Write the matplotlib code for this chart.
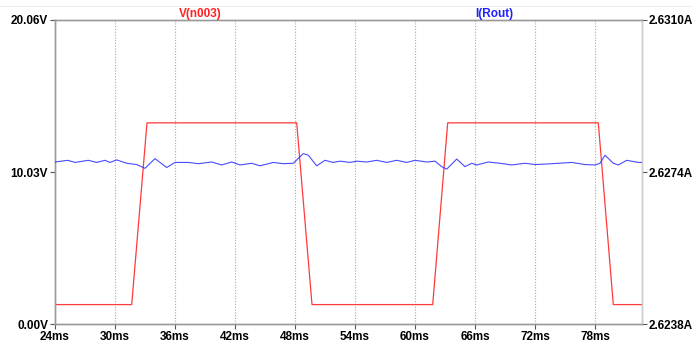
import matplotlib
matplotlib.use("Agg")
import matplotlib.pyplot as plt
from matplotlib.lines import Line2D

# V(n003): square-ish pulse, in volts
v_time = [24.0, 31.67, 33.2, 48.17, 49.7, 61.77, 63.27, 78.33, 79.83, 82.67]
v_vals = [1.30, 1.30, 13.28, 13.28, 1.30, 1.30, 13.28, 13.28, 1.30, 1.30]

# I(Rout): small ripple with ringing after the edges, in amps
i_time = [24.0, 25.27, 26.0, 27.33, 28.17, 29.0, 29.5, 30.17, 31.17, 32.17,
          33.0, 34.0, 35.17, 36.0, 37.33, 38.33, 39.67, 40.67, 41.67, 42.5,
          43.67, 44.5, 45.83, 46.83, 47.83, 48.83, 49.33, 50.17, 51.0, 51.83,
          52.5, 53.5, 54.17, 55.17, 56.17, 57.17, 58.17, 59.17, 60.0, 61.17,
          62.0, 62.67, 63.17, 64.17, 65.0, 65.67, 66.17, 67.33, 68.5, 69.67,
          71.0, 72.0, 73.0, 74.33, 75.67, 77.0, 78.0, 78.5, 79.0, 79.83,
          80.33, 81.17, 82.33, 82.67]
i_vals = [2.62764, 2.62768, 2.62763, 2.62768, 2.62763, 2.62768, 2.62763, 2.62769, 2.62761, 2.62758,
          2.62749, 2.62772, 2.62751, 2.62763, 2.62763, 2.62760, 2.62764, 2.62757, 2.62764, 2.62757,
          2.62761, 2.62755, 2.62763, 2.62760, 2.62761, 2.62784, 2.62780, 2.62755, 2.62768, 2.62763,
          2.62766, 2.62763, 2.62766, 2.62764, 2.62768, 2.62763, 2.62768, 2.62763, 2.62768, 2.62764,
          2.62766, 2.62753, 2.62747, 2.62771, 2.62753, 2.62761, 2.62757, 2.62764, 2.62761, 2.62757,
          2.62761, 2.62758, 2.62759, 2.62761, 2.62763, 2.62758, 2.62757, 2.62761, 2.62780, 2.62761,
          2.62757, 2.62768, 2.62763, 2.62763]

x_ticks = [24, 30, 36, 42, 48, 54, 60, 66, 72, 78]
v_ticks = [0.0, 10.03, 20.06]
v_labels = ["0.00V", "10.03V", "20.06V"]
i_ticks = [2.6238, 2.6274, 2.6310]
i_labels = ["2.6238A", "2.6274A", "2.6310A"]

plt.rcParams['font.family'] = ['Liberation Sans', 'DejaVu Sans']

fig = plt.figure(figsize=(6.92, 3.44), dpi=100)
ax = fig.add_axes([55 / 692, 1 - 324.3 / 344, 586.7 / 692, 304.3 / 344])
ax2 = ax.twinx()

# faint line across the top of the window
fig.add_artist(Line2D([0, 1], [1 - 6 / 344, 1 - 6 / 344], color="#eeeeee", lw=0.8,
                      transform=fig.transFigure))

# dotted vertical grid
for x in x_ticks[1:]:
    ax.axvline(x, color="#a8a8a8", lw=0.8, linestyle=(0, (1, 1.5)), zorder=0)

ax.plot(v_time, v_vals, color="#ff3a3a", lw=0.9, zorder=3)
ax2.plot(i_time, i_vals, color="#2a2aff", lw=0.8, alpha=0.85, zorder=3)

ax.set_xlim(24, 82.67)
ax.set_ylim(0, 20.06)
ax2.set_ylim(2.6238, 2.6310)

ax.set_xticks(x_ticks)
ax.set_xticklabels([f"{x}ms" for x in x_ticks])
ax.set_yticks(v_ticks)
ax.set_yticklabels(v_labels)
ax2.set_yticks(i_ticks)
ax2.set_yticklabels(i_labels)

for a in (ax, ax2):
    for s in a.spines.values():
        s.set_color("#9a9a9a")
        s.set_linewidth(1.0)
    a.spines["right"].set_color("#cccccc")
    a.tick_params(length=3.5, width=0.8, color="#555555", pad=1.5,
                  labelsize=8.5)
    for lab in a.get_xticklabels() + a.get_yticklabels():
        lab.set_fontweight("bold")

fig.text(200 / 692, 1 - 14 / 344, "V(n003)", color="#ff2020", fontsize=8.5,
         fontweight="bold", ha="center", va="center")
fig.text(494 / 692, 1 - 14 / 344, "I(Rout)", color="#2020ff", fontsize=8.5,
         fontweight="bold", ha="center", va="center")

fig.savefig("out.png", dpi=100)
